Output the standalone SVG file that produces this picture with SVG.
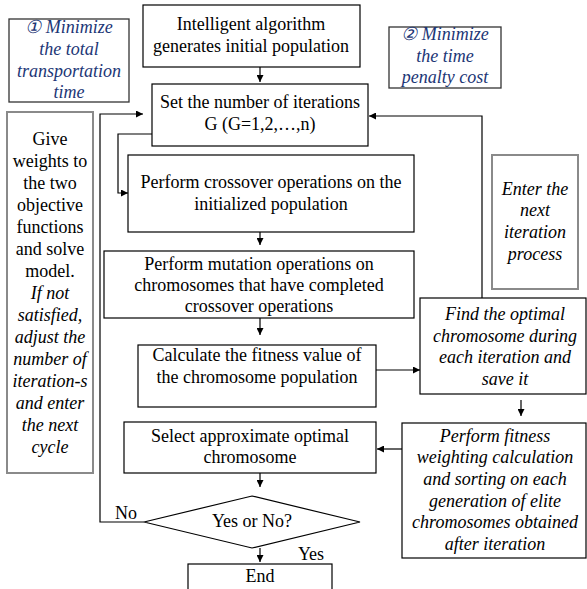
<svg xmlns="http://www.w3.org/2000/svg" width="587" height="589" viewBox="0 0 587 589">
<defs>
<marker id="ah" viewBox="0 0 8 8" refX="8" refY="4" markerWidth="7" markerHeight="7" markerUnits="userSpaceOnUse" orient="auto"><path d="M0,0 L8,4 L0,8 z" fill="#000"/></marker>
<style>
text{font-size:18px;fill:#000;text-anchor:middle}
.it{font-style:italic}
.bl{font-style:italic;fill:#1c3676}
.box{fill:#fff;stroke:#000;stroke-width:1.2}
.obox{fill:#fff;stroke:#333;stroke-width:1.3}
.gbox{fill:#fff;stroke:#8a8a8a;stroke-width:2}
.ln{fill:none;stroke:#000;stroke-width:1.2}
</style>
</defs>
<rect width="587" height="589" fill="#fff"/>
<g font-family="'Liberation Serif', 'Times New Roman', serif">
<g id="connectors">
<path class="ln" d="M260,67 V82" marker-end="url(#ah)"/>
<path class="ln" d="M144,522 H100 V114 H143" marker-end="url(#ah)"/>
<path class="ln" d="M152,134 H118 V193 H128" marker-end="url(#ah)"/>
<path class="ln" d="M260,232 V245" marker-end="url(#ah)"/>
<path class="ln" d="M260,318 V335" marker-end="url(#ah)"/>
<path class="ln" d="M376,370 H420" marker-end="url(#ah)"/>
<path class="ln" d="M482,298 V116 H369" marker-end="url(#ah)"/>
<path class="ln" d="M521,400 V416" marker-end="url(#ah)"/>
<path class="ln" d="M402,449 H377" marker-end="url(#ah)"/>
<path class="ln" d="M260,473 V487" marker-end="url(#ah)"/>
<path class="ln" d="M260,548 V562" marker-end="url(#ah)"/>
<text x="126" y="519">No</text>
<text x="311" y="560">Yes</text>
</g>
<g id="obj1">
<rect class="obox" x="9" y="19" width="120" height="83"/>
<text class="bl" x="69" y="33">① Minimize</text>
<text class="bl" x="69" y="55">the total</text>
<text class="bl" x="69" y="77">transportation</text>
<text class="bl" x="69" y="98">time</text>
</g>
<g id="obj2">
<rect class="obox" x="389" y="27" width="112" height="61"/>
<text class="bl" x="445" y="40">② Minimize</text>
<text class="bl" x="445" y="62">the time</text>
<text class="bl" x="445" y="83">penalty cost</text>
</g>
<g id="init">
<rect class="box" x="143" y="5" width="217" height="62"/>
<text x="251" y="30">Intelligent algorithm</text>
<text x="251" y="52">generates initial population</text>
</g>
<g id="iter">
<rect class="box" x="152" y="84" width="216" height="62"/>
<text x="260" y="108">Set the number of iterations</text>
<text x="260" y="130">G (G=1,2,…,n)</text>
</g>
<g id="weights">
<rect class="gbox" x="7" y="112" width="86" height="361"/>
<text x="50" y="145">Give</text>
<text x="50" y="167">weights to</text>
<text x="50" y="189">the two</text>
<text x="50" y="211">objective</text>
<text x="50" y="233">functions</text>
<text x="50" y="255">and solve</text>
<text x="50" y="277">model.</text>
<text class="it" x="50" y="299">If not</text>
<text class="it" x="50" y="321">satisfied,</text>
<text class="it" x="50" y="343">adjust the</text>
<text class="it" x="50" y="365">number of</text>
<text class="it" x="50" y="387">iteration-s</text>
<text class="it" x="50" y="409">and enter</text>
<text class="it" x="50" y="431">the next</text>
<text class="it" x="50" y="453">cycle</text>
</g>
<g id="crossover">
<rect class="box" x="128" y="155" width="286" height="77"/>
<text x="271" y="188">Perform crossover operations on the</text>
<text x="271" y="210">initialized population</text>
</g>
<g id="mutation">
<rect class="box" x="104" y="251" width="310" height="67"/>
<text x="259" y="270">Perform mutation operations on</text>
<text x="259" y="291">chromosomes that have completed</text>
<text x="259" y="312">crossover operations</text>
</g>
<g id="fitness">
<rect class="box" x="138" y="345" width="238" height="62"/>
<text x="257" y="361">Calculate the fitness value of</text>
<text x="257" y="383">the chromosome population</text>
</g>
<g id="enter">
<rect class="gbox" x="492" y="155" width="86" height="134"/>
<text class="it" x="535" y="195">Enter the</text>
<text class="it" x="535" y="216">next</text>
<text class="it" x="535" y="238">iteration</text>
<text class="it" x="535" y="260">process</text>
</g>
<g id="findopt">
<rect class="box" x="420" y="298" width="166" height="96"/>
<text class="it" x="505" y="320">Find the optimal</text>
<text class="it" x="505" y="342">chromosome during</text>
<text class="it" x="505" y="363">each iteration and</text>
<text class="it" x="505" y="385">save it</text>
</g>
<g id="weighting">
<rect class="box" x="402" y="423" width="184" height="135"/>
<text class="it" x="495" y="442">Perform fitness</text>
<text class="it" x="495" y="463">weighting calculation</text>
<text class="it" x="495" y="485">and sorting on each</text>
<text class="it" x="495" y="507">generation of elite</text>
<text class="it" x="495" y="528">chromosomes obtained</text>
<text class="it" x="495" y="550">after iteration</text>
</g>
<g id="select">
<rect class="box" x="124" y="422" width="252" height="51"/>
<text x="250" y="442">Select approximate optimal</text>
<text x="250" y="463">chromosome</text>
</g>
<g id="decision">
<polygon class="box" points="252,496 360,522 252,548 144,522"/>
<text x="252" y="527">Yes or No?</text>
</g>
<g id="end">
<rect class="box" x="188" y="564" width="144" height="30"/>
<text x="260" y="582">End</text>
</g>
</g>
</svg>
